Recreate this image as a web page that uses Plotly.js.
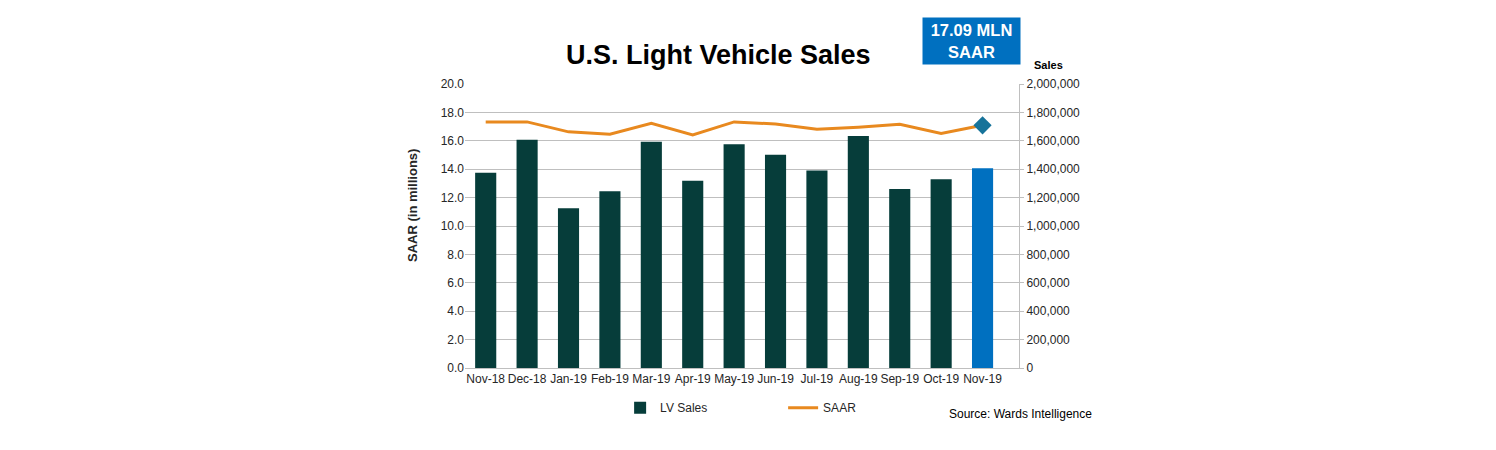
<!DOCTYPE html>
<html>
<head>
<meta charset="utf-8">
<script src="https://cdn.plot.ly/plotly-3.0.1.min.js"></script>
<style>html,body{margin:0;padding:0;background:#fff;}#chart{width:1496px;height:450px;}</style>
</head>
<body>
<div id="chart"></div>
<script>
const months = ["Nov-18","Dec-18","Jan-19","Feb-19","Mar-19","Apr-19","May-19","Jun-19","Jul-19","Aug-19","Sep-19","Oct-19","Nov-19"];
const lvSales = [1375000,1608000,1125000,1244000,1594000,1319000,1575000,1502000,1390000,1634000,1260000,1329000,1406000];
const saar = [17.33,17.33,16.63,16.46,17.23,16.42,17.33,17.18,16.82,16.96,17.16,16.52,17.09];
const latestMonth = ["Nov-19"];
const latestSaar = [17.09];
const barColors = months.map((m,i)=> i===months.length-1 ? "#0070c0" : "#063d3a");

const font = "Liberation Sans, Arial, sans-serif";

const traces = [
  {type:"bar", x:months, y:lvSales, yaxis:"y2", name:"LV Sales",
   marker:{color:barColors}, showlegend:true},
  {type:"scatter", mode:"lines", x:months, y:saar, yaxis:"y", name:"SAAR",
   line:{color:"#e8891f", width:3}},
  {type:"scatter", mode:"markers", x:latestMonth, y:latestSaar, yaxis:"y", showlegend:false,
   marker:{symbol:"diamond", size:14, color:"#16739a"}}
];

const layout = {
  width:1496, height:450,
  margin:{l:465, r:477, t:84, b:82},
  paper_bgcolor:"#fff", plot_bgcolor:"#fff",
  font:{family:font, size:12, color:"#262626"},
  bargap:0.49,
  xaxis:{type:"category", showgrid:false, showline:true, linecolor:"#bfbfbf", linewidth:1,
    ticks:"", tickfont:{size:12, color:"#262626"}, fixedrange:true},
  yaxis:{range:[0,20], dtick:2, tickformat:".1f", showgrid:true, gridcolor:"#bfbfbf", gridwidth:1,
    zeroline:false, showline:false, ticks:"", tickfont:{size:12, color:"#262626"}},
  yaxis2:{range:[0,2000000], dtick:200000, tickformat:",d", overlaying:"y", side:"right",
    showgrid:false, zeroline:false, showline:true, linecolor:"#bfbfbf", linewidth:1,
    ticks:"outside", ticklen:4, tickcolor:"#bfbfbf", tickfont:{size:12, color:"#262626"}},
  legend:{orientation:"h", x:0.28, y:-0.14, xanchor:"left", yanchor:"middle",
    entrywidth:118, entrywidthmode:"pixels", font:{size:12, color:"#262626"}, traceorder:"normal"},
  showlegend:true,
  annotations:[
    {text:"<b>U.S. Light Vehicle Sales</b>", xref:"paper", yref:"paper", x:(718-465)/554, y:(368-55)/284,
     xanchor:"center", yanchor:"middle", showarrow:false, font:{size:27, color:"#000", family:font}},
    {text:"<b>17.09 MLN<br>SAAR</b>", xref:"paper", yref:"paper", x:(971-465)/554, y:(368-41)/284,
     xanchor:"center", yanchor:"middle", showarrow:false, bgcolor:"#0070c0", width:93, height:42, borderpad:2,
     font:{size:16.5, color:"#fff", family:font}},
    {text:"<b>Sales</b>", xref:"paper", yref:"paper", x:(1048-465)/554, y:(368-65)/284,
     xanchor:"center", yanchor:"middle", showarrow:false, font:{size:11, color:"#000", family:font}},
    {text:"<b>SAAR (in millions)</b>", xref:"paper", yref:"paper", x:(412-465)/554, y:(368-206)/284,
     xanchor:"center", yanchor:"middle", showarrow:false, textangle:-90, font:{size:13, color:"#262626", family:font}},
    {text:"Source: Wards Intelligence", xref:"paper", yref:"paper", x:(1094-465)/554, y:(368-414)/284,
     xanchor:"right", yanchor:"middle", showarrow:false, font:{size:12, color:"#000", family:font}}
  ]
};

Plotly.newPlot("chart", traces, layout, {displayModeBar:false, staticPlot:true});
</script>
</body>
</html>
